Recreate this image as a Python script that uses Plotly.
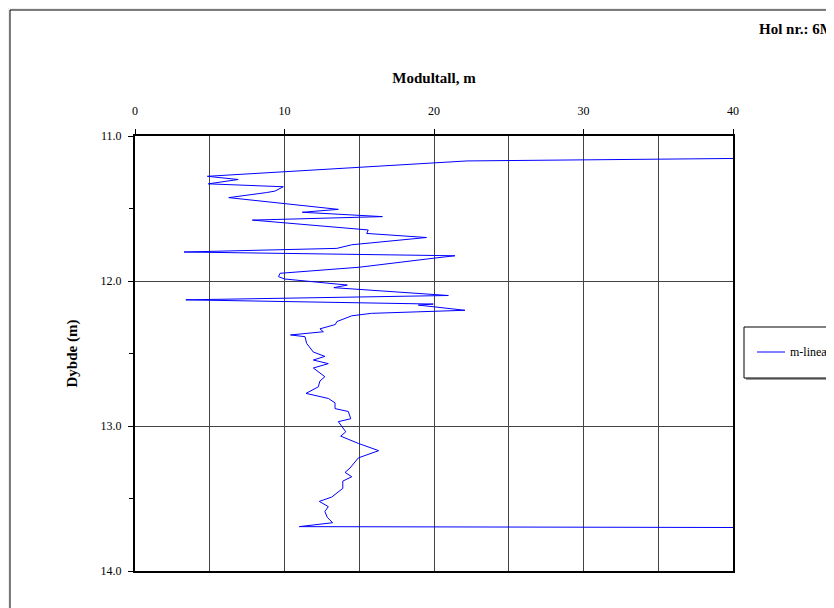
import plotly.graph_objects as go

# ---- data ----
series_name = "m-lineær"
depth_m = [11.155, 11.172, 11.278, 11.30, 11.33, 11.35, 11.38, 11.39, 11.425, 11.464,
           11.506, 11.526, 11.556, 11.58, 11.648, 11.672, 11.70, 11.75, 11.775, 11.80,
           11.826, 11.84, 11.905, 11.947, 11.97, 11.986, 12.028, 12.046, 12.10, 12.13,
           12.159, 12.166, 12.177, 12.202, 12.223, 12.24, 12.28, 12.30, 12.33, 12.35,
           12.372, 12.384, 12.43, 12.49, 12.52, 12.545, 12.57, 12.60, 12.66, 12.69,
           12.73, 12.775, 12.81, 12.84, 12.88, 12.90, 12.95, 12.97, 13.04, 13.07,
           13.12, 13.17, 13.22, 13.29, 13.32, 13.35, 13.38, 13.43, 13.49, 13.52,
           13.556, 13.59, 13.63, 13.667, 13.694, 13.70]
modultall = [40.0, 22.2, 4.84, 6.9, 4.9, 9.92, 9.36, 8.8, 6.27, 9.92,
             13.6, 11.19, 16.55, 7.85, 15.6, 15.5, 19.5, 14.5, 13.5, 3.28,
             21.4, 20.2, 15.0, 9.7, 9.6, 10.0, 14.2, 13.3, 20.96, 3.4,
             19.95, 18.95, 19.95, 22.07, 15.83, 14.5, 13.5, 13.4, 12.37, 12.6,
             10.4, 11.37, 11.48, 11.93, 12.7, 11.93, 12.93, 11.93, 12.7, 12.37,
             12.26, 11.44, 12.93, 13.38, 13.38, 14.27, 14.43, 13.6, 14.1, 13.76,
             14.94, 16.3, 14.94, 14.38, 14.05, 14.5, 13.9, 13.9, 13.16, 12.33,
             12.93, 12.7, 12.86, 13.22, 10.99, 40.0]
x_ticks = [0, 10, 20, 30, 40]
y_ticks = [11.0, 12.0, 13.0, 14.0]
y_ticklabels = ["11.0", "12.0", "13.0", "14.0"]

# ---- layout geometry (screen pixels; page body has an 8px offset) ----
OFF = 8
W, H = 834, 608
SL, SR, ST, SB = 135, 733, 136, 571          # plot area as seen on screen
L, R, T, B = SL - OFF, SR - OFF, ST - OFF, SB - OFF


def px_x(px):
    return (px - SL) / (SR - SL)


def px_y(py):
    return (SB - py) / (SB - ST)


SERIF = "Liberation Serif, Times New Roman, serif"
GRID = "#444444"

fig = go.Figure()
fig.add_trace(go.Scatter(
    x=modultall, y=depth_m, mode="lines", name=series_name,
    line=dict(color="#0000FF", width=1), showlegend=False,
))

fig.update_layout(
    width=W, height=H,
    margin=dict(l=L, r=W - R, t=T, b=H - B, autoexpand=False),
    paper_bgcolor="#EEEEEE", plot_bgcolor="#FFFFFF",
    font=dict(family=SERIF, size=12, color="black"),
    xaxis=dict(
        side="top", range=[0, 40], tickvals=x_ticks, ticks="outside", ticklen=5,
        tickcolor="black", showline=True, mirror=True, linecolor="black", linewidth=2,
        showgrid=True, gridcolor=GRID, gridwidth=1, zeroline=False,
        minor=dict(dtick=5, showgrid=True, gridcolor=GRID, gridwidth=1, ticks=""),
        title=dict(text="<b>Modultall, m</b>", font=dict(size=15), standoff=17),
        tickfont=dict(size=12), ticklabelstandoff=9, automargin=False,
    ),
    yaxis=dict(
        range=[14, 11], tickvals=y_ticks, ticktext=y_ticklabels, ticks="outside", ticklen=5,
        tickcolor="black", showline=True, mirror=True, linecolor="black", linewidth=2,
        showgrid=True, gridcolor=GRID, gridwidth=1, zeroline=False,
        minor=dict(dtick=0.5, ticks="outside", ticklen=4, tickcolor="black", showgrid=False),
        title=dict(text="<b>Dybde (m)</b>", font=dict(size=15), standoff=19),
        tickfont=dict(size=12), ticklabelstandoff=4, automargin=False,
    ),
    shapes=[
        # white chart sheet
        dict(type="rect", xref="paper", yref="paper", layer="below",
             x0=px_x(10), x1=px_x(W + 30), y0=px_y(H + 30), y1=px_y(10),
             fillcolor="white", line=dict(color="black", width=1)),
        # legend shadow
        dict(type="rect", xref="paper", yref="paper",
             x0=px_x(746), x1=px_x(W + 30), y0=px_y(380), y1=px_y(329),
             fillcolor="#9A9A9A", line=dict(width=0)),
        # legend box
        dict(type="rect", xref="paper", yref="paper",
             x0=px_x(744), x1=px_x(W + 30), y0=px_y(378), y1=px_y(327),
             fillcolor="white", line=dict(color="black", width=1)),
        # legend sample line
        dict(type="line", xref="paper", yref="paper",
             x0=px_x(757), x1=px_x(785), y0=px_y(352), y1=px_y(352),
             line=dict(color="#0000FF", width=1)),
    ],
    annotations=[
        dict(text=series_name, xref="paper", yref="paper", x=px_x(788), y=px_y(352),
             xanchor="left", yanchor="middle", showarrow=False,
             font=dict(size=12, family=SERIF)),
        dict(text="<b>Hol nr.: 6M</b>", xref="paper", yref="paper", x=px_x(757), y=px_y(29),
             xanchor="left", yanchor="middle", showarrow=False,
             font=dict(size=15, family=SERIF)),
    ],
)

fig.write_html("out.html")
